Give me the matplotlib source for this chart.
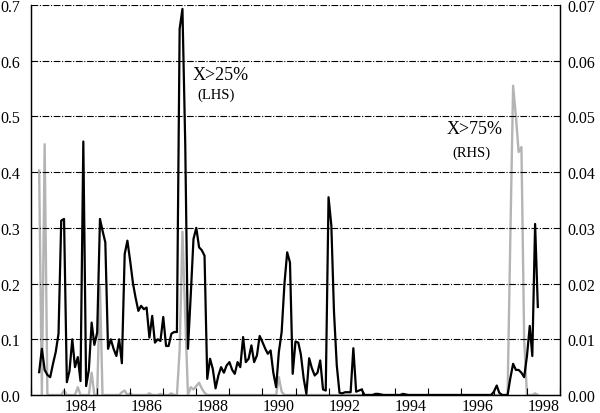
import matplotlib

matplotlib.use("Agg")
import matplotlib.dates as mdates
import matplotlib.pyplot as plt
import numpy as np
import pandas as pd

# monthly series, April 1983 to April 1998
start_month = "1983-04"

# X>25% (LHS)
black = [
    0.041, 0.083, 0.045, 0.036, 0.032, 0.056, 0.077, 0.110, 0.313,
    0.316, 0.023, 0.043, 0.100, 0.050, 0.068, 0.025, 0.455, 0.016, 0.045, 0.130, 0.090, 0.112,
    0.316, 0.295, 0.274, 0.083, 0.100, 0.083, 0.070, 0.100, 0.057, 0.253, 0.277, 0.240,
    0.200, 0.175, 0.151, 0.160, 0.154, 0.157, 0.103, 0.142, 0.094, 0.100, 0.097, 0.140,
    0.088, 0.088, 0.110, 0.113, 0.113, 0.657, 0.693, 0.450, 0.083, 0.180, 0.280, 0.300,
    0.265, 0.260, 0.250, 0.029, 0.065, 0.047, 0.012, 0.035, 0.050, 0.040, 0.053, 0.059,
    0.045, 0.038, 0.059, 0.050, 0.104, 0.059, 0.065, 0.089, 0.059, 0.071, 0.106, 0.095,
    0.083, 0.074, 0.080, 0.040, 0.014, 0.077, 0.113, 0.200, 0.256, 0.238, 0.038, 0.096,
    0.094, 0.073, 0.030, 0.002, 0.066, 0.048, 0.035, 0.040, 0.062, 0.010, 0.008, 0.355,
    0.304, 0.150, 0.053, 0.004, 0.003, 0.005, 0.005, 0.005, 0.084, 0.006, 0.008, 0.010,
    0.000, 0.000, 0.000, 0.000, 0.002, 0.002, 0.001, 0.000, 0.000, 0.000, 0.000, 0.000,
    0.000, 0.000, 0.002, 0.001, 0.000, 0.000, 0.000, 0.000, 0.000, 0.000, 0.000, 0.000,
    0.000, 0.000, 0.000, 0.000, 0.000, 0.000, 0.000, 0.000, 0.000, 0.000, 0.000, 0.000,
    0.000, 0.000, 0.000, 0.000, 0.000, 0.000, 0.000, 0.000, 0.000, 0.000, 0.000, 0.006,
    0.017, 0.004, 0.000, 0.000, 0.000, 0.030, 0.056, 0.045, 0.045, 0.040, 0.032, 0.070,
    0.124, 0.070, 0.307, 0.158,
]

# X>75% (RHS)
grey = [
    0.0403, 0.0000, 0.0450, 0.0000, 0.0000, 0.0000, 0.0000, 0.0000, 0.0000,
    0.0008, 0.0000, 0.0000, 0.0000, 0.0000, 0.0014, 0.0000, 0.0000, 0.0000, 0.0000, 0.0040, 0.0000, 0.0000,
    0.0195, 0.0000, 0.0000, 0.0000, 0.0000, 0.0000, 0.0000, 0.0000, 0.0005, 0.0008, 0.0000, 0.0003,
    0.0000, 0.0000, 0.0000, 0.0000, 0.0000, 0.0000, 0.0003, 0.0000, 0.0000, 0.0000, 0.0002, 0.0000,
    0.0000, 0.0000, 0.0003, 0.0000, 0.0000, 0.0080, 0.0293, 0.0140, 0.0000, 0.0014, 0.0010, 0.0016,
    0.0022, 0.0012, 0.0004, 0.0000, 0.0000, 0.0000, 0.0000, 0.0000, 0.0000, 0.0000, 0.0000, 0.0000,
    0.0000, 0.0000, 0.0000, 0.0000, 0.0000, 0.0000, 0.0000, 0.0000, 0.0000, 0.0000, 0.0000, 0.0000,
    0.0000, 0.0000, 0.0000, 0.0000, 0.0000, 0.0032, 0.0006, 0.0000, 0.0000, 0.0000, 0.0000, 0.0000,
    0.0000, 0.0000, 0.0000, 0.0000, 0.0000, 0.0000, 0.0000, 0.0000, 0.0000, 0.0000, 0.0000, 0.0000,
    0.0000, 0.0000, 0.0000, 0.0000, 0.0000, 0.0000, 0.0000, 0.0000, 0.0000, 0.0000, 0.0000, 0.0000,
    0.0000, 0.0000, 0.0000, 0.0000, 0.0000, 0.0000, 0.0000, 0.0000, 0.0000, 0.0000, 0.0000, 0.0000,
    0.0000, 0.0000, 0.0000, 0.0000, 0.0000, 0.0000, 0.0000, 0.0000, 0.0000, 0.0000, 0.0000, 0.0000,
    0.0000, 0.0000, 0.0000, 0.0000, 0.0000, 0.0000, 0.0000, 0.0000, 0.0000, 0.0000, 0.0000, 0.0000,
    0.0000, 0.0000, 0.0000, 0.0000, 0.0000, 0.0000, 0.0000, 0.0000, 0.0000, 0.0000, 0.0000, 0.0000,
    0.0000, 0.0000, 0.0000, 0.0000, 0.0000, 0.0280, 0.0555, 0.0500, 0.0436, 0.0445, 0.0100, 0.0000,
    0.0000, 0.0000, 0.0003, 0.0000,
]

left_ticks = [0.0, 0.1, 0.2, 0.3, 0.4, 0.5, 0.6, 0.7]
right_ticks = [0.00, 0.01, 0.02, 0.03, 0.04, 0.05, 0.06, 0.07]
year_labels = [1984, 1986, 1988, 1990, 1992, 1994, 1996, 1998]

plt.rcParams["font.family"] = ["Liberation Serif", "DejaVu Serif"]

dates = pd.date_range(start_month, periods=len(black), freq="MS")

fig = plt.figure(figsize=(6, 4.14), dpi=100)
ax = fig.add_axes([31 / 600, 18 / 414, 529 / 600, 390 / 414])
ax2 = ax.twinx()
ax.set_zorder(ax2.get_zorder() + 1)
ax.patch.set_visible(False)

ax2.plot(dates, grey, color="#b4b4b4", lw=1.7)
ax.plot(dates, black, color="black", lw=1.6)

ax.set_ylim(0, 0.7)
ax2.set_ylim(0, 0.07)
ax.set_xlim(pd.Timestamp("1983-01-01"), pd.Timestamp("1999-01-01"))

ax.set_yticks(left_ticks)
ax.set_yticklabels([f"{v:.1f}" for v in left_ticks])
ax2.set_yticks(right_ticks)
ax2.set_yticklabels([f"{v:.2f}" for v in right_ticks])
ax.tick_params(axis="y", length=0, pad=7.5, labelsize=11.5)
ax2.tick_params(axis="y", length=0, pad=5.5, labelsize=11.5)

# year boundaries get the ticks, labels sit mid-year
ax.xaxis.set_major_locator(mdates.YearLocator(1))
ax.xaxis.set_major_formatter(plt.NullFormatter())
ax.set_xticks([mdates.date2num(pd.Timestamp(f"{y}-07-01")) for y in year_labels], minor=True)
ax.set_xticklabels([str(y) for y in year_labels], minor=True)
ax.tick_params(axis="x", which="major", direction="in", length=5, width=0.8)
ax.tick_params(axis="x", which="minor", length=0, pad=2, labelsize=11.5)

for v in left_ticks[1:]:
    ax.axhline(v, color="black", lw=0.8, ls=(0, (6, 1.5, 1, 1.5)), zorder=0)

for a in (ax, ax2):
    a.spines["top"].set_visible(False)
    for s in ("left", "right", "bottom"):
        a.spines[s].set_linewidth(0.9)

ax.text(0.306, 0.821, "X>25%", transform=ax.transAxes, fontsize=13, va="center", ha="left")
ax.text(0.314, 0.772, "(LHS)", transform=ax.transAxes, fontsize=10.5, va="center", ha="left")
ax.text(0.786, 0.683, "X>75%", transform=ax.transAxes, fontsize=13, va="center", ha="left")
ax.text(0.796, 0.623, "(RHS)", transform=ax.transAxes, fontsize=10.5, va="center", ha="left")

fig.savefig("out.png", dpi=100)
